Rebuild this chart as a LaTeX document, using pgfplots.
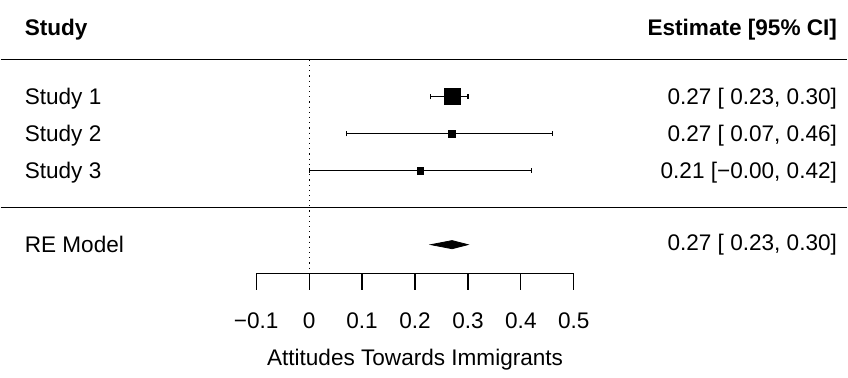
\documentclass[border=0pt]{standalone}
\usepackage{pgfplots}
\pgfplotsset{compat=1.18}
\usepackage{fontspec}
\setmainfont{Liberation Sans}
\begin{document}
\fontsize{11.3}{13.6}\selectfont
\begin{tikzpicture}
\begin{axis}[name=main, at={(0,0)}, anchor=south west, scale only axis,
  width=424pt, height=188pt, xmin=-0.583, xmax=1.017, ymin=-4.54, ymax=5.62,
  hide axis, clip=false]
\path (rel axis cs:0,0) rectangle (rel axis cs:1,1);
\addplot[black, line width=0.6pt] coordinates {(-0.583,4) (1.017,4)};
\addplot[black, line width=0.6pt] coordinates {(-0.583,0) (1.017,0)};
\addplot[black, dotted, line width=0.6pt] coordinates {(0,4) (0,-1.68)};
% studies
\addplot[black, only marks, mark=square*, mark size=4pt,
  error bars/.cd, x dir=both, x explicit, error mark=|,
  error bar style={line width=0.6pt},
  error mark options={mark size=1.3pt, line width=0.6pt, rotate=0}]
  coordinates {(0.27,3) += (0.03,0) -= (0.04,0)};
\addplot[black, only marks, mark=square*, mark size=1.6pt,
  error bars/.cd, x dir=both, x explicit, error mark=|,
  error bar style={line width=0.6pt},
  error mark options={mark size=1.3pt, line width=0.6pt}]
  coordinates {(0.27,2) += (0.19,0) -= (0.20,0)};
\addplot[black, only marks, mark=square*, mark size=1.6pt,
  error bars/.cd, x dir=both, x explicit, error mark=|,
  error bar style={line width=0.6pt},
  error mark options={mark size=1.3pt, line width=0.6pt}]
  coordinates {(0.21,1) += (0.21,0) -= (0.21,0)};
% RE diamond
\addplot[black, fill=black] coordinates {(0.23,-1) (0.27,-0.89) (0.30,-1) (0.27,-1.11)} --cycle;
% text
\begin{scope}[every node/.style={inner sep=0pt}]
\node[anchor=west, font=\bfseries] at (axis cs:-0.538,4.82) {Study};
\node[anchor=east, font=\bfseries] at (axis cs:0.998,4.82) {Estimate [95\% CI]};
\node[anchor=west] at (axis cs:-0.538,2.96) {Study 1};
\node[anchor=west] at (axis cs:-0.538,1.96) {Study 2};
\node[anchor=west] at (axis cs:-0.538,0.96) {Study 3};
\node[anchor=west] at (axis cs:-0.538,-1) {RE Model};
\node[anchor=east] at (axis cs:0.998,2.96) {0.27 [ 0.23, 0.30]};
\node[anchor=east] at (axis cs:0.998,1.96) {0.27 [ 0.07, 0.46]};
\node[anchor=east] at (axis cs:0.998,0.96) {0.21 [−0.00, 0.42]};
\node[anchor=east] at (axis cs:0.998,-1) {0.27 [ 0.23, 0.30]};
\end{scope}
\end{axis}
\begin{axis}[at={(128pt,51pt)}, anchor=south west, scale only axis,
  width=159pt, height=10pt, xmin=-0.1, xmax=0.5, ymin=0, ymax=1,
  axis x line*=bottom, hide y axis,
  xtick={-0.1,0,0.1,0.2,0.3,0.4,0.5},
  xticklabels={−0.1,0,0.1,0.2,0.3,0.4,0.5},
  tick align=outside, major tick length=8pt,
  axis line style={-, line width=0.6pt},
  tick style={line width=0.6pt, black},
  xticklabel style={yshift=-7.5pt},
  xlabel={Attitudes Towards Immigrants},
  xlabel style={yshift=-2.5pt}]
\addplot[draw=none] coordinates {(0,0.5)};
\end{axis}
\end{tikzpicture}
\end{document}
